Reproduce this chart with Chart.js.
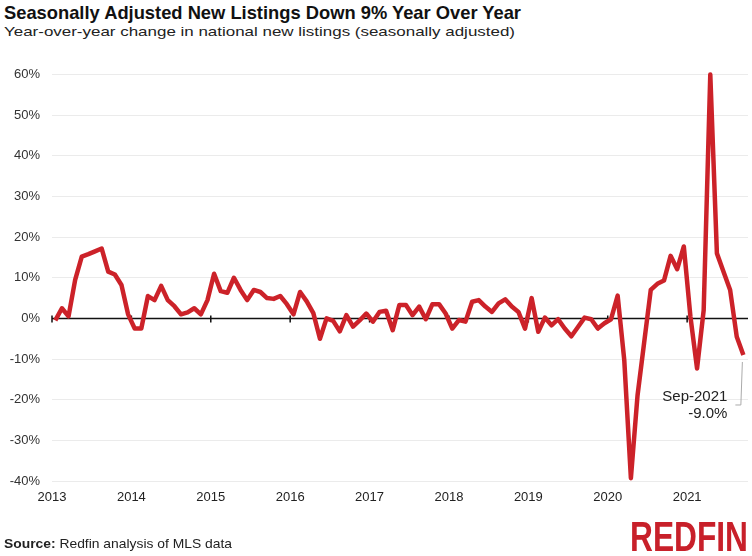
<!DOCTYPE html>
<html>
<head>
<meta charset="utf-8">
<script src="https://cdn.jsdelivr.net/npm/chart.js@4.4.1/dist/chart.umd.min.js"></script>
<style>
body { margin: 0; background: #fff; width: 752px; height: 556px; overflow: hidden; position: relative; font-family: "Liberation Sans", Arial, sans-serif; }
#myChart { position: absolute; left: 0; top: 0; }
.txt { position: absolute; white-space: nowrap; transform-origin: 0 0; }
#title { left: 4px; top: 2px; font-size: 19px; font-weight: bold; color: #111; }
#subtitle { left: 4px; top: 24px; font-size: 13.5px; color: #222; }
#source { left: 4px; top: 536px; font-size: 13px; color: #222; }
#logo { left: 630px; top: 513px; font-family: "Liberation Sans Narrow", "Liberation Sans", Arial, sans-serif; font-weight: bold; font-size: 42px; color: #c8202a; line-height: normal; }
</style>
</head>
<body>
<div id="title" class="txt">Seasonally Adjusted New Listings Down 9% Year Over Year</div>
<div id="subtitle" class="txt">Year-over-year change in national new listings (seasonally adjusted)</div>
<canvas id="myChart" width="752" height="556"></canvas>
<div id="source" class="txt"><b>Source:</b> Redfin analysis of MLS data</div>
<div id="logo" class="txt">REDFIN</div>
<script>
// year labels on the x axis (one tick per January)
const years = ['2013', '2014', '2015', '2016', '2017', '2018', '2019', '2020', '2021'];
const monthNames = ['Jan', 'Feb', 'Mar', 'Apr', 'May', 'Jun', 'Jul', 'Aug', 'Sep', 'Oct', 'Nov', 'Dec'];

// y/y change in new listings, %, month by month
const yoy2013 = [-0.5, 2.5, 0.5, 9.5, 15.2, 15.8, 16.5, 17.2, 11.5, 10.8, 8.2, 1];
const yoy2014 = [-2.5, -2.5, 5.5, 4.5, 8, 4.5, 3, 1, 1.5, 2.5, 1, 4.5];
const yoy2015 = [11, 6.7, 6.3, 10, 7, 4.5, 7, 6.5, 5, 4.8, 5.5, 3.5];
const yoy2016 = [1, 6.5, 4.2, 1.3, -5, 0, -0.6, -3.2, 0.8, -2, -0.5, 1.2];
const yoy2017 = [-0.8, 1.6, 1.9, -2.9, 3.3, 3.3, 0.8, 2.9, -0.2, 3.5, 3.5, 1.2];
const yoy2018 = [-2.5, -0.4, -0.8, 4.1, 4.5, 2.9, 1.6, 3.7, 4.7, 2.9, 1.6, -2.5];
const yoy2019 = [5, -3.3, 0.2, -1.7, -0.2, -2.5, -4.4, -2.1, 0.2, -0.2, -2.5, -1.2];
const yoy2020 = [-0.2, 5.6, -10.3, -39.3, -19, -6, 7, 8.5, 9.3, 15.4, 12.1, 17.7];
const yoy2021 = [0.4, -12.3, 2, 60, 16, 11.5, 7, -4.5, -9.0];

const yTicks = [-40, -30, -20, -10, 0, 10, 20, 30, 40, 50, 60];

const allValues = [].concat(yoy2013, yoy2014, yoy2015, yoy2016, yoy2017, yoy2018, yoy2019, yoy2020, yoy2021);
// points sit mid-month, January ticks on the whole number
const points = allValues.map((v, i) => ({ x: i + 0.5, y: v }));

Chart.defaults.font.family = "'Liberation Sans', Arial, sans-serif";

// black zero line with little year ticks on it
const zeroAxis = {
	id: 'zeroAxis',
	beforeDatasetsDraw(chart) {
		const c = chart.ctx, area = chart.chartArea;
		const xs = chart.scales.x, ys = chart.scales.y;
		const y0 = ys.getPixelForValue(0);
		c.save();
		c.strokeStyle = '#111';
		c.lineWidth = 1.5;
		c.beginPath();
		c.moveTo(area.left, y0);
		c.lineTo(area.right, y0);
		years.forEach((yr, i) => {
			const x = xs.getPixelForValue(i * 12);
			c.moveTo(x, y0 - 3);
			c.lineTo(x, y0 + 4);
		});
		c.stroke();
		c.restore();
	}
};

// label for the latest month
const callout = {
	id: 'callout',
	afterDatasetsDraw(chart) {
		const c = chart.ctx;
		const meta = chart.getDatasetMeta(0);
		const n = allValues.length;
		const pt = meta.data[n - 1];
		const px = pt.x, py = pt.y;
		const lbl = monthNames[(n - 1) % 12] + '-' + years[Math.floor((n - 1) / 12)];
		const val = allValues[n - 1].toFixed(1) + '%';
		c.save();
		c.strokeStyle = '#aaa';
		c.lineWidth = 1;
		c.beginPath();
		c.moveTo(px - 1, py + 7);
		c.lineTo(px - 2.5, py + 50);
		c.lineTo(px - 8, py + 50);
		c.stroke();
		c.fillStyle = '#222';
		c.font = "15px 'Liberation Sans', Arial, sans-serif";
		c.textAlign = 'right';
		c.textBaseline = 'middle';
		c.fillText(lbl, px - 16, py + 42);
		c.fillText(val, px - 16, py + 59);
		c.restore();
	}
};

const ctx = document.getElementById('myChart').getContext('2d');
const myChart = new Chart(ctx, {
	type: 'line',
	data: {
		datasets: [{
			data: points,
			borderColor: '#cc2229',
			borderWidth: 4.5,
			borderJoinStyle: 'round',
			pointRadius: 0,
			tension: 0,
			clip: false
		}]
	},
	options: {
		responsive: false,
		animation: false,
		layout: { padding: { top: 74.5, bottom: 45, left: 0, right: 4 } },
		plugins: { legend: { display: false }, tooltip: { enabled: false } },
		scales: {
			x: {
				type: 'linear',
				min: 0,
				max: 105.2,
				afterBuildTicks: s => { s.ticks = years.map((y, i) => ({ value: i * 12 })); },
				afterFit: s => { s.height = 30; },
				grid: { display: false, drawTicks: false },
				border: { display: false },
				ticks: {
					autoSkip: false,
					maxRotation: 0,
					padding: 9,
					color: '#222',
					font: { size: 13 },
					callback: v => years[Math.round(v / 12)]
				}
			},
			y: {
				min: -40,
				max: 60,
				afterBuildTicks: s => { s.ticks = yTicks.map(v => ({ value: v })); },
				afterFit: s => { s.width = 52; },
				grid: {
					drawTicks: false,
					color: c => c.tick && c.tick.value === 0 ? 'rgba(0,0,0,0)' : '#ebebeb'
				},
				border: { display: false },
				ticks: {
					padding: 12,
					color: '#333',
					font: { size: 13 },
					callback: v => v + '%'
				}
			}
		}
	},
	plugins: [zeroAxis, callout]
});

// squeeze the header/footer texts to the widths they take in the original
function fitWidth(id, w) {
	const el = document.getElementById(id);
	const cur = el.getBoundingClientRect().width;
	el.style.transform = 'scaleX(' + (w / cur) + ')';
}
fitWidth('title', 517);
fitWidth('subtitle', 511);
fitWidth('source', 228);
fitWidth('logo', 118);
</script>
</body>
</html>
